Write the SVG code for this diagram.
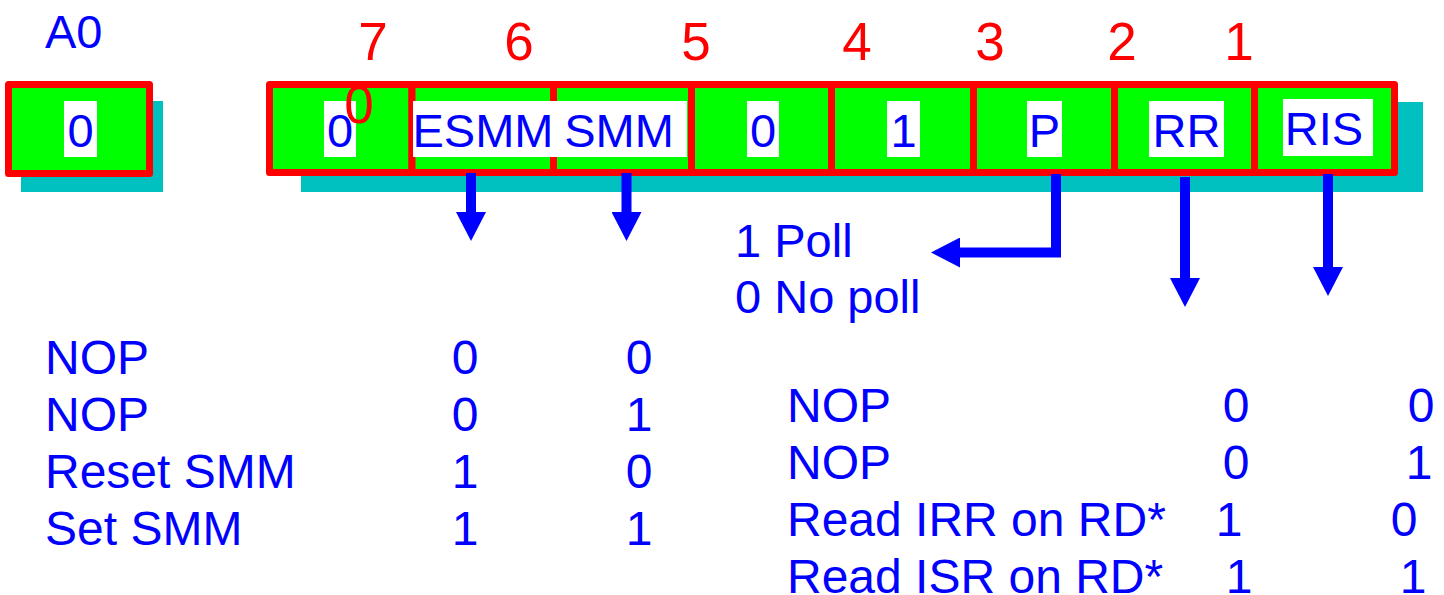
<svg xmlns="http://www.w3.org/2000/svg" width="1444" height="595" viewBox="0 0 1444 595">
<style>
.sh{fill:#00C0C0}
.cell{fill:#00FF00;stroke:#FF0000;stroke-width:7;stroke-linejoin:round}
.lbg{fill:#FFFFFF}
.t{font-family:"Liberation Sans",Arial,sans-serif;font-size:47px;fill:#0000FF}
.tb{font-size:48px}
.m{text-anchor:middle}
.r{font-family:"Liberation Sans",Arial,sans-serif;font-size:53px;fill:#FF0000;text-anchor:middle}
.ar{fill:none;stroke:#0000FF;stroke-width:10}
</style>
<defs>
<marker id="ah" viewBox="0 0 29 30" markerWidth="29" markerHeight="30" refX="0" refY="15" orient="auto" markerUnits="userSpaceOnUse">
<path d="M0,0 L29,15 L0,30 z" fill="#0000FF"/>
</marker>
</defs>
<rect width="1444" height="595" fill="#FFFFFF"/>

<text class="t" x="45" y="48">A0</text>
<g id="bitnums">
<text class="r" x="373" y="60">7</text>
<text class="r" x="519" y="60">6</text>
<text class="r" x="696" y="60">5</text>
<text class="r" x="857" y="60">4</text>
<text class="r" x="990" y="60">3</text>
<text class="r" x="1122" y="60">2</text>
<text class="r" x="1239" y="60">1</text>
</g>

<g id="a0reg">
<rect class="sh" x="21" y="101" width="142" height="91"/>
<rect class="cell" x="8.5" y="84.5" width="141" height="89"/>
<rect class="lbg" x="64" y="101" width="33" height="56"/>
<text class="t m" x="80.5" y="147">0</text>
</g>

<g id="a1reg">
<rect class="sh" x="301" y="102" width="1122" height="90"/>
<rect class="cell" x="269.5" y="84.5" width="142.5" height="88"/>
<rect class="cell" x="412" y="84.5" width="141.5" height="88"/>
<rect class="cell" x="553.5" y="84.5" width="138" height="88"/>
<rect class="cell" x="691.5" y="84.5" width="140" height="88"/>
<rect class="cell" x="831.5" y="84.5" width="142" height="88"/>
<rect class="cell" x="973.5" y="84.5" width="141" height="88"/>
<rect class="cell" x="1114.5" y="84.5" width="140" height="88"/>
<rect class="cell" x="1254.5" y="84.5" width="140" height="88"/>
</g>

<g id="cell7">
<rect class="lbg" x="324" y="101" width="32" height="56"/>
<text class="t m" x="340" y="147">0</text>
<text class="r" x="359" y="123">0</text>
</g>
<g id="cell6">
<rect class="lbg" x="413" y="101" width="138" height="56"/>
<text class="t m" x="483" y="147">ESMM</text>
</g>
<g id="cell5">
<rect class="lbg" x="550" y="101" width="137" height="56"/>
<text class="t m" x="619" y="147">SMM</text>
</g>
<g id="cell4">
<rect class="lbg" x="747" y="101" width="32" height="56"/>
<text class="t m" x="763" y="147">0</text>
</g>
<g id="cell3">
<rect class="lbg" x="887" y="101" width="33" height="56"/>
<text class="t m" x="903.5" y="147">1</text>
</g>
<g id="cell2">
<rect class="lbg" x="1027" y="101" width="35" height="56"/>
<text class="t m" x="1044.5" y="147">P</text>
</g>
<g id="cell1">
<rect class="lbg" x="1149" y="101" width="75" height="56"/>
<text class="t m" x="1186.5" y="147">RR</text>
</g>
<g id="cell0">
<rect class="lbg" x="1283" y="99" width="90" height="57"/>
<text class="t m" x="1324" y="145">RIS</text>
</g>

<g id="connectors">
<line class="ar" x1="471" y1="173" x2="471" y2="212" marker-end="url(#ah)"/>
<line class="ar" x1="626.5" y1="173" x2="626.5" y2="212" marker-end="url(#ah)"/>
<line class="ar" x1="1185" y1="177" x2="1185" y2="278" marker-end="url(#ah)"/>
<line class="ar" x1="1328" y1="174" x2="1328" y2="267" marker-end="url(#ah)"/>
<polyline class="ar" points="1056,174 1056,252.5 960,252.5" marker-end="url(#ah)"/>
</g>

<g id="poll">
<text class="t" x="735" y="257">1 Poll</text>
<text class="t" x="735" y="313">0 No poll</text>
</g>

<g id="smmtable">
<text class="t tb" x="45" y="374">NOP</text>
<text class="t tb" x="45" y="431">NOP</text>
<text class="t tb" x="45" y="488">Reset SMM</text>
<text class="t tb" x="45" y="545">Set SMM</text>
<text class="t tb m" x="465" y="374">0</text>
<text class="t tb m" x="465" y="431">0</text>
<text class="t tb m" x="465" y="488">1</text>
<text class="t tb m" x="465" y="545">1</text>
<text class="t tb m" x="639" y="374">0</text>
<text class="t tb m" x="639" y="431">1</text>
<text class="t tb m" x="639" y="488">0</text>
<text class="t tb m" x="639" y="545">1</text>
</g>

<g id="readtable">
<text class="t tb" x="787" y="422">NOP</text>
<text class="t tb" x="787" y="479">NOP</text>
<text class="t tb" x="787" y="536">Read IRR on RD*</text>
<text class="t tb" x="787" y="593">Read ISR on RD*</text>
<text class="t tb m" x="1236" y="422">0</text>
<text class="t tb m" x="1236" y="479">0</text>
<text class="t tb m" x="1229" y="536">1</text>
<text class="t tb m" x="1239" y="593">1</text>
<text class="t tb m" x="1421" y="422">0</text>
<text class="t tb m" x="1419" y="479">1</text>
<text class="t tb m" x="1404" y="536">0</text>
<text class="t tb m" x="1413" y="593">1</text>
</g>
</svg>
